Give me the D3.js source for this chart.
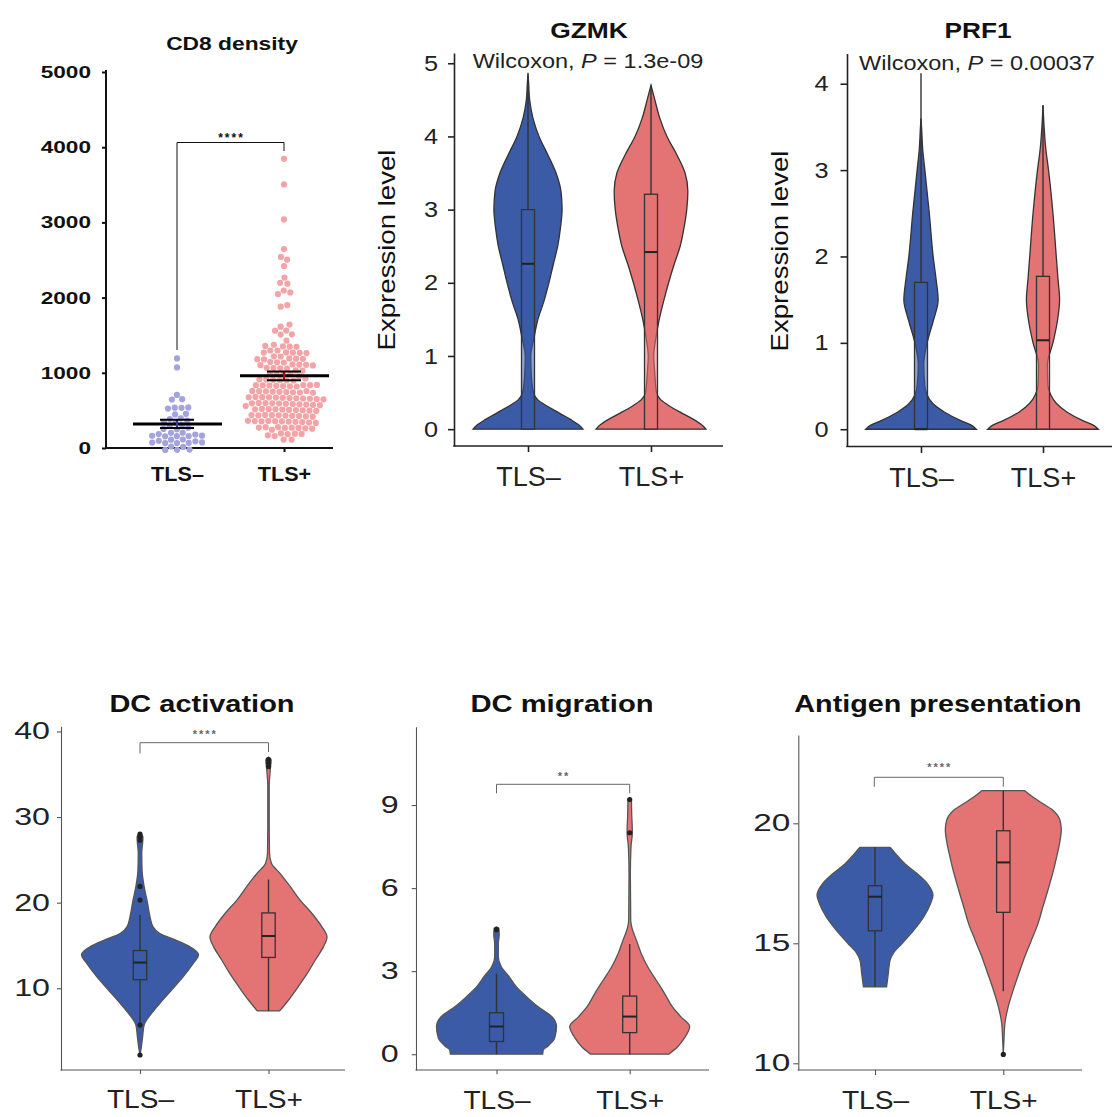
<!DOCTYPE html>
<html>
<head>
<meta charset="utf-8">
<script src="https://cdn.jsdelivr.net/npm/d3@7"></script>
<style>
body { margin: 0; background: #fff; }
text { font-family: "Liberation Sans", Arial, sans-serif; }
</style>
</head>
<body>
<script>
// ---- data ----
var groups = ["TLS–", "TLS+"];

// CD8 density, one value per patient
var cd8Ticks = [0, 1000, 2000, 3000, 4000, 5000];
var cd8Neg = [1191, 1071, 699, 652, 648, 535, 532, 528, 525, 455, 448, 375, 372, 368,
  322, 318, 315, 312, 276, 273, 270,
  168, 167, 166, 165, 165, 164, 163, 162, 160,
  88, 87, 86, 85, 85, 84, 83, 82, 80,
  14, 12, 11, 10, 8];
var cd8Pos = [3846, 3505, 3040, 2646, 2540, 2505, 2420, 2257, 2200, 2190, 2090, 2070, 2050, 1900, 1880,
  1633, 1602, 1570, 1565, 1516, 1512, 1411,
  1326, 1324, 1322, 1320, 1318,
  1260, 1259, 1258, 1257, 1256, 1255, 1254,
  1180, 1179, 1178, 1177, 1176, 1175, 1174, 1173, 1172,
  1104, 1103, 1102, 1101, 1100, 1099, 1098,
  1038, 1037, 1036, 1035, 1034,
  971, 970, 969, 968, 967,
  905, 904, 903, 902, 901, 900, 899,
  838, 837, 836, 835, 834, 833, 832, 831,
  772, 771, 770, 769, 768, 767, 766, 765, 764,
  706, 705, 704, 703, 702, 701, 700, 699, 698,
  639, 638, 637, 636, 635, 634, 633, 632, 631,
  573, 572, 571, 570, 569, 568, 567, 566, 565, 564,
  507, 506, 505, 504, 503, 502, 501, 500, 499, 498,
  440, 439, 438, 437, 436, 435, 434, 433, 432,
  374, 373, 372, 371, 370, 369, 368, 367, 366,
  307, 306, 305, 304, 303, 302, 301, 300,
  241, 240, 239, 238, 237, 236,
  175, 173, 171, 131, 127];
var cd8Mean = [320, 960];
var cd8Sem = [55, 58];

// violin outlines: [value, relative half width]; boxes: [low, q1, median, q3, high]
var gzmkTicks = [0, 1, 2, 3, 4, 5];
var gzmkNeg = [[0,1],[0.06,0.92],[0.13,0.78],[0.22,0.57],[0.31,0.36],[0.4,0.18],[0.5,0.1],[0.75,0.06],[1,0.05],[1.25,0.11],[1.5,0.18],[1.75,0.29],[2,0.38],[2.25,0.46],[2.5,0.54],[2.75,0.59],[3,0.62],[3.25,0.6],[3.5,0.51],[3.75,0.36],[4,0.2],[4.25,0.09],[4.5,0.03],[4.75,0.01],[4.85,0]];
var gzmkPos = [[0,1],[0.06,0.92],[0.13,0.78],[0.22,0.56],[0.31,0.35],[0.4,0.18],[0.5,0.1],[0.75,0.07],[1,0.05],[1.25,0.09],[1.5,0.15],[1.75,0.23],[2,0.32],[2.25,0.42],[2.5,0.53],[2.75,0.6],[3,0.65],[3.25,0.67],[3.5,0.62],[3.75,0.47],[4,0.29],[4.25,0.16],[4.5,0.07],[4.7,0]];
var gzmkBox = [[0, 0, 2.26, 3.0, 4.87], [0, 0, 2.42, 3.21, 4.7]];

var prf1Ticks = [0, 1, 2, 3, 4];
var prf1Neg = [[0,1],[0.05,0.9],[0.1,0.72],[0.2,0.42],[0.3,0.21],[0.4,0.11],[0.5,0.07],[0.75,0.05],[1,0.11],[1.25,0.22],[1.5,0.31],[1.75,0.27],[2,0.22],[2.5,0.15],[3,0.07],[3.25,0.03],[3.5,0.01],[3.6,0]];
var prf1Pos = [[0,1],[0.05,0.9],[0.1,0.72],[0.2,0.43],[0.3,0.24],[0.4,0.14],[0.5,0.09],[0.75,0.08],[1,0.18],[1.25,0.26],[1.5,0.3],[1.75,0.27],[2,0.24],[2.5,0.18],[3,0.1],[3.25,0.05],[3.5,0.02],[3.75,0]];
var prf1Box = [[0, 0, 0, 1.7, 4.12], [0, 0, 1.03, 1.77, 3.75]];

var dcaTicks = [10, 20, 30, 40];
var dcaNeg = [[2.2,0],[3,0.02],[4.35,0.045],[5.7,0.07],[7.1,0.2],[8.25,0.34],[9.8,0.54],[11.36,0.74],[12.9,0.91],[13.9,1],[14.86,0.85],[15.6,0.62],[16.4,0.34],[17.2,0.22],[18.4,0.17],[20.1,0.125],[21.9,0.07],[23.8,0.035],[25.8,0.03],[27,0.045],[27.7,0.05],[28.1,0]];
var dcaPos = [[7.35,0.19],[8.6,0.34],[10.2,0.51],[11.7,0.66],[13.3,0.8],[14.86,0.94],[16,1],[17.2,0.91],[18.76,0.74],[20.3,0.54],[21.9,0.37],[23.4,0.2],[24.6,0.05],[25.8,0.017],[29.7,0.012],[33.6,0.012],[35.5,0.03],[36.7,0.045],[37,0]];
var dcaBox = [[5.7, 11.0, 13.0, 14.4, 18.6], [7.35, 13.6, 16.1, 18.8, 22.7]];
var dcaOut = [[2.2, 5.7, 20.3, 21.9, 27.3, 27.7, 28.0], [35.9, 36.3, 36.7]];

var dcmTicks = [0, 3, 6, 9];
var dcmNeg = [[0,0.77],[0.15,0.78],[0.3,0.86],[0.58,0.97],[1,1],[1.36,0.92],[1.72,0.69],[2.08,0.5],[2.44,0.33],[2.8,0.21],[3.16,0.08],[3.52,0.03],[4,0.03],[4.3,0.045],[4.55,0.04],[4.6,0]];
var dcmPos = [[0,0.65],[0.27,0.8],[0.58,0.91],[1,1],[1.36,0.85],[1.72,0.71],[2.2,0.58],[2.68,0.44],[3.16,0.3],[3.65,0.19],[4.13,0.11],[4.6,0.033],[4.84,0.017],[6.5,0.011],[7.5,0.022],[8,0.044],[8.7,0.033],[9.2,0.028],[9.25,0]];
var dcmBox = [[0, 0.46, 1.0, 1.5, 2.92], [0, 0.78, 1.36, 2.1, 3.98]];
var dcmOut = [[4.5], [8.0, 9.2]];

var apTicks = [10, 15, 20];
var apNeg = [[13.19,0.2],[13.75,0.23],[14.3,0.26],[14.6,0.32],[15,0.47],[15.55,0.67],[16.1,0.84],[16.67,0.96],[17,1],[17.5,0.9],[17.9,0.73],[18.3,0.52],[18.75,0.35],[19,0.26]];
var apPos = [[10.37,0],[10.97,0.011],[11.67,0.028],[12.36,0.085],[13.05,0.17],[13.75,0.27],[14.44,0.37],[15.1,0.48],[15.83,0.6],[16.5,0.68],[17.22,0.77],[17.9,0.85],[18.6,0.92],[19.3,0.98],[19.72,1],[20.1,0.98],[20.55,0.85],[20.9,0.63],[21.15,0.48],[21.36,0.37]];
var apBox = [[13.19, 15.52, 16.94, 17.4, 19.0], [13.0, 16.29, 18.37, 19.69, 21.36]];
var apOut = [[], [10.37]];

var fills = ["#3b5ba7", "#e47373"];

var svg = d3.select("body").append("svg")
  .attr("width", 1112)
  .attr("height", 1117);

// the figure's lettering is wider than the font, so stretch text sideways
function stretch(sel, sx, rot) {
  sel.each(function() {
    var t = d3.select(this);
    var x = +t.attr("x") || 0, y = +t.attr("y") || 0;
    t.attr("x", 0).attr("y", 0)
      .attr("transform", "translate(" + x + "," + y + ")" + (rot ? " rotate(" + rot + ")" : "") + " scale(" + sx + ",1)");
  });
}

function label(g, x, y, str, size, weight, sx, rot) {
  var t = g.append("text")
    .attr("x", x).attr("y", y)
    .attr("text-anchor", "middle")
    .style("font-size", size + "px")
    .style("font-weight", weight)
    .attr("fill", "#111")
    .text(str);
  stretch(t, sx, rot);
  return t;
}

function bracket(g, b) {
  g.append("path")
    .attr("d", "M" + b.x1 + "," + b.legL + "V" + b.y + "H" + b.x2 + "V" + b.legR)
    .attr("fill", "none")
    .attr("stroke", b.color)
    .attr("stroke-width", b.width);
  g.append("text")
    .attr("x", (b.x1 + b.x2) / 2 + b.spacing / 2)
    .attr("y", b.textY)
    .attr("text-anchor", "middle")
    .style("font-size", b.size + "px")
    .style("font-weight", "bold")
    .style("letter-spacing", b.spacing + "px")
    .attr("fill", b.color)
    .text(b.text);
}

// ---------- CD8 density dot plot ----------
function cd8Panel() {
  var g = svg.append("g");
  var y = d3.scaleLinear().domain([0, 5000]).range([448, 72]);
  var x = d3.scalePoint().domain(groups).range([177, 284]);

  var ya = g.append("g")
    .attr("transform", "translate(106,0)")
    .call(d3.axisLeft(y).tickValues(cd8Ticks).tickFormat(d3.format("d"))
      .tickSize(4).tickSizeOuter(0).tickPadding(11));
  ya.select(".domain").attr("stroke", "#111").attr("stroke-width", 2).attr("d", "M0,70V449");
  ya.selectAll(".tick line").attr("stroke", "#111").attr("stroke-width", 2);
  ya.selectAll(".tick text").style("font-size", "17px").style("font-weight", "bold")
    .style("font-family", "Liberation Sans").attr("fill", "#111");
  stretch(ya.selectAll(".tick text"), 1.33);

  var xa = g.append("g")
    .attr("transform", "translate(0,448)")
    .call(d3.axisBottom(x).tickSize(4).tickPadding(15));
  xa.select(".domain").remove();
  xa.selectAll(".tick line").attr("stroke", "#111").attr("stroke-width", 2);
  xa.selectAll(".tick text").style("font-size", "20px").style("font-weight", "bold")
    .style("font-family", "Liberation Sans").attr("fill", "#111");
  stretch(xa.selectAll(".tick text"), 1.08);
  g.append("line").attr("x1", 105).attr("x2", 333).attr("y1", 448).attr("y2", 448)
    .attr("stroke", "#111").attr("stroke-width", 2);

  label(g, 232, 50, "CD8 density", 19, "bold", 1.2);

  bracket(g, {x1: 177, x2: 284, y: 142.5, legL: 350, legR: 151, textY: 142,
    text: "****", size: 12, spacing: 2, color: "#111", width: 1});

  // beeswarm: y is pinned to the value, collisions push dots sideways
  function swarm(values, cx, r) {
    var nodes = values.map(function(v, i) {
      return {x: cx + (i % 2 ? 1 : -1) * (i % 5), y: y(v), ty: y(v)};
    });
    var sim = d3.forceSimulation(nodes)
      .force("x", d3.forceX(cx).strength(0.06))
      .force("y", d3.forceY(function(d) { return d.ty; }).strength(1))
      .force("collide", d3.forceCollide(r).iterations(3))
      .stop();
    for (var i = 0; i < 300; i++) sim.tick();
    return nodes;
  }

  var dotCols = ["#a3a3dd", "#f4a3a7"];
  [cd8Neg, cd8Pos].forEach(function(vals, i) {
    g.append("g").selectAll("circle")
      .data(swarm(vals, x(groups[i]), 3.4))
      .enter().append("circle")
      .attr("cx", function(d) { return d.x; })
      .attr("cy", function(d) { return d.y; })
      .attr("r", 3.1)
      .attr("fill", dotCols[i]);
  });

  var semCols = ["#3a3a8a", "#a01010"];
  cd8Mean.forEach(function(m, i) {
    var cx = x(groups[i]);
    g.append("line").attr("x1", cx - 44).attr("x2", cx + 45)
      .attr("y1", y(m)).attr("y2", y(m)).attr("stroke", "#000").attr("stroke-width", 3);
    g.append("line").attr("x1", cx).attr("x2", cx)
      .attr("y1", y(m - cd8Sem[i])).attr("y2", y(m + cd8Sem[i]))
      .attr("stroke", semCols[i]).attr("stroke-width", 2);
    [m - cd8Sem[i], m + cd8Sem[i]].forEach(function(v) {
      g.append("line").attr("x1", cx - 17).attr("x2", cx + 17)
        .attr("y1", y(v)).attr("y2", y(v)).attr("stroke", "#000").attr("stroke-width", 2);
    });
  });
}

// ---------- violin + box panels ----------
function violinPanel(c) {
  var g = svg.append("g");
  var y = d3.scaleLinear().domain(c.yDomain).range(c.yRange);
  var x = d3.scalePoint().domain(groups).range(c.xPos);

  var ya = g.append("g")
    .attr("transform", "translate(" + c.yAxisX + ",0)")
    .call(d3.axisLeft(y).tickValues(c.ticks).tickFormat(d3.format("d"))
      .tickSize(c.tickLen).tickSizeOuter(0).tickPadding(c.tickPad));
  ya.select(".domain").attr("stroke", c.axisColor).attr("stroke-width", c.axisW);
  ya.selectAll(".tick line").attr("stroke", c.axisColor).attr("stroke-width", c.axisW);
  ya.selectAll(".tick text").style("font-size", c.tickFont + "px")
    .style("font-family", "Liberation Sans").attr("fill", "#222");
  stretch(ya.selectAll(".tick text"), c.tickSx);

  var xa = g.append("g")
    .attr("transform", "translate(0," + c.yRange[0] + ")")
    .call(d3.axisBottom(x).tickSize(c.tickLen).tickPadding(c.labelPad));
  xa.select(".domain").remove();
  xa.selectAll(".tick line").attr("stroke", c.axisColor).attr("stroke-width", c.axisW);
  xa.selectAll(".tick text").style("font-size", c.labelFont + "px")
    .style("font-family", "Liberation Sans").attr("fill", "#222");
  stretch(xa.selectAll(".tick text"), c.labelSx);
  g.append("line")
    .attr("x1", c.yAxisX - c.axisW / 2).attr("x2", c.xEnd)
    .attr("y1", c.yRange[0]).attr("y2", c.yRange[0])
    .attr("stroke", c.axisColor).attr("stroke-width", c.axisW);

  label(g, c.titleX, c.titleY, c.title, c.titleSize, "bold", c.titleSx);

  if (c.sub) {
    var t = g.append("text").attr("x", c.subX).attr("y", c.subY)
      .attr("text-anchor", "middle").style("font-size", "21px").attr("fill", "#222");
    t.append("tspan").text("Wilcoxon, ");
    t.append("tspan").style("font-style", "italic").text("P");
    t.append("tspan").text(" = " + c.sub);
    stretch(t, 1.12);
  }
  if (c.ylabel) label(g, c.ylabelX, c.ylabelY, c.ylabel, 23, "normal", 1.2, -90);

  if (c.bracket) bracket(g, c.bracket);

  c.violins.forEach(function(prof, i) {
    var cx = x(groups[i]);
    var area = d3.area()
      .x0(function(d) { return cx - d[1] * c.maxHalf; })
      .x1(function(d) { return cx + d[1] * c.maxHalf; })
      .y(function(d) { return y(d[0]); })
      .curve(d3.curveMonotoneY);
    g.append("path")
      .attr("d", area(prof))
      .attr("fill", fills[i])
      .attr("stroke", c.outline)
      .attr("stroke-width", 1.3);

    var b = c.boxes[i];
    g.append("line").attr("x1", cx).attr("x2", cx).attr("y1", y(b[0])).attr("y2", y(b[1]))
      .attr("stroke", "#333").attr("stroke-width", 1.4);
    g.append("line").attr("x1", cx).attr("x2", cx).attr("y1", y(b[3])).attr("y2", y(b[4]))
      .attr("stroke", "#333").attr("stroke-width", 1.4);
    g.append("rect")
      .attr("x", cx - c.boxHalf).attr("width", 2 * c.boxHalf)
      .attr("y", y(b[3])).attr("height", Math.max(0, y(b[1]) - y(b[3])))
      .attr("fill", fills[i]).attr("fill-opacity", 0.55)
      .attr("stroke", "#333").attr("stroke-width", 1.3);
    g.append("line").attr("x1", cx - c.boxHalf).attr("x2", cx + c.boxHalf)
      .attr("y1", y(b[2])).attr("y2", y(b[2]))
      .attr("stroke", "#222").attr("stroke-width", 2);

    g.append("g").selectAll("circle")
      .data(c.outliers[i])
      .enter().append("circle")
      .attr("cx", cx)
      .attr("cy", function(d) { return y(d); })
      .attr("r", 2.6)
      .attr("fill", "#222");
  });
}

cd8Panel();

violinPanel({
  title: "GZMK", titleX: 589, titleY: 38, titleSize: 22, titleSx: 1.2,
  sub: "1.3e-09", subX: 588, subY: 68,
  ylabel: "Expression level", ylabelX: 395, ylabelY: 250,
  yAxisX: 454, xEnd: 723, xPos: [528, 651],
  yDomain: [-0.23, 5.14], yRange: [446, 53],
  ticks: gzmkTicks, tickLen: 6, tickPad: 10, tickFont: 22, tickSx: 1.15,
  labelPad: 15, labelFont: 27, labelSx: 1.0,
  axisColor: "#222", axisW: 1.6, outline: "#333",
  maxHalf: 55, boxHalf: 6.5,
  violins: [gzmkNeg, gzmkPos], boxes: gzmkBox, outliers: [[], []]
});

violinPanel({
  title: "PRF1", titleX: 978, titleY: 38, titleSize: 22, titleSx: 1.19,
  sub: "0.00037", subX: 977, subY: 70,
  ylabel: "Expression level", ylabelX: 788, ylabelY: 251,
  yAxisX: 847, xEnd: 1112, xPos: [921, 1043],
  yDomain: [-0.2, 4.35], yRange: [446.5, 53.5],
  ticks: prf1Ticks, tickLen: 6.5, tickPad: 12, tickFont: 22, tickSx: 1.15,
  labelPad: 15, labelFont: 27, labelSx: 1.0,
  axisColor: "#222", axisW: 1.6, outline: "#333",
  maxHalf: 55.3, boxHalf: 6.5,
  violins: [prf1Neg, prf1Pos], boxes: prf1Box, outliers: [[], []]
});

violinPanel({
  title: "DC activation", titleX: 202, titleY: 712, titleSize: 23, titleSx: 1.26,
  yAxisX: 61, xEnd: 345, xPos: [140, 268.5],
  yDomain: [0.45, 40.6], yRange: [1070, 726.3],
  ticks: dcaTicks, tickLen: 4, tickPad: 7, tickFont: 23, tickSx: 1.4,
  labelPad: 16, labelFont: 26, labelSx: 1.08,
  axisColor: "#555", axisW: 1.1, outline: "#555",
  maxHalf: 58.5, boxHalf: 6.7,
  violins: [dcaNeg, dcaPos], boxes: dcaBox, outliers: dcaOut,
  bracket: {x1: 140, x2: 268.5, y: 742.7, legL: 753.5, legR: 752, textY: 737.5,
    text: "****", size: 11, spacing: 2, color: "#666", width: 1}
});

violinPanel({
  title: "DC migration", titleX: 562, titleY: 712, titleSize: 23, titleSx: 1.27,
  yAxisX: 416, xEnd: 709, xPos: [496.5, 629.7],
  yDomain: [-0.57, 11.83], yRange: [1070, 726.7],
  ticks: dcmTicks, tickLen: 4.3, tickPad: 13, tickFont: 23, tickSx: 1.4,
  labelPad: 16, labelFont: 26, labelSx: 1.08,
  axisColor: "#555", axisW: 1.1, outline: "#555",
  maxHalf: 60, boxHalf: 7,
  violins: [dcmNeg, dcmPos], boxes: dcmBox, outliers: dcmOut,
  bracket: {x1: 496.5, x2: 629.7, y: 784.3, legL: 793.3, legR: 793.3, textY: 779.5,
    text: "**", size: 11, spacing: 2, color: "#666", width: 1}
});

violinPanel({
  title: "Antigen presentation", titleX: 938, titleY: 712, titleSize: 23, titleSx: 1.25,
  yAxisX: 798.3, xEnd: 1082, xPos: [875, 1003.3],
  yDomain: [9.72, 23.68], yRange: [1070, 735],
  ticks: apTicks, tickLen: 5, tickPad: 3, tickFont: 23, tickSx: 1.45,
  labelPad: 16, labelFont: 26, labelSx: 1.08,
  axisColor: "#555", axisW: 1.1, outline: "#555",
  maxHalf: 58, boxHalf: 6.7,
  violins: [apNeg, apPos], boxes: apBox, outliers: apOut,
  bracket: {x1: 874.3, x2: 1003.3, y: 777.3, legL: 786.7, legR: 786.7, textY: 771,
    text: "****", size: 11, spacing: 2, color: "#666", width: 1}
});
</script>
</body>
</html>
